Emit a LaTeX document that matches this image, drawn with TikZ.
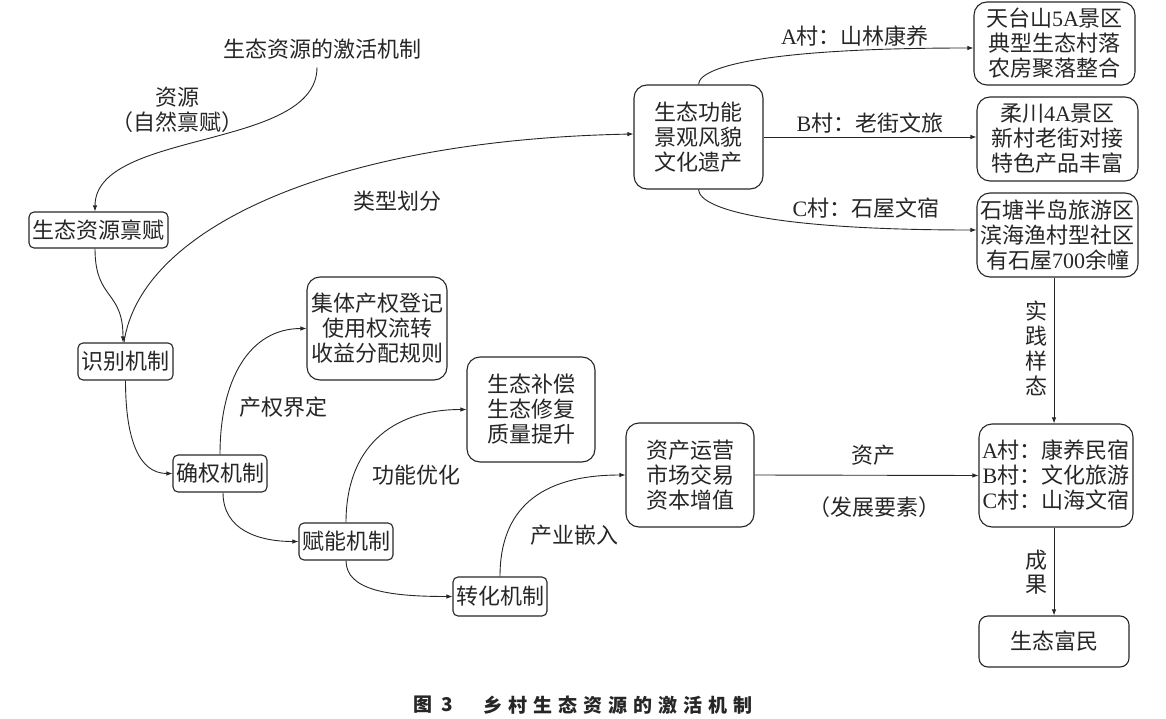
\documentclass[tikz,border=0pt]{standalone}
\usepackage{fontspec}
\setmainfont{Noto Sans CJK SC}
\newfontfamily\lat{Liberation Serif}
\usetikzlibrary{arrows.meta}
\colorlet{ink}{black!85}
\tikzset{
  box/.style={draw=ink, text=ink, line width=1.1pt, rounded corners=5pt, inner sep=0pt, align=center,
    font=\fontsize{22}{25}\selectfont},
  bigbox/.style={box, rounded corners=13pt},
  lbl/.style={inner sep=0pt, align=center, text=ink, font=\fontsize{22}{25}\selectfont},
  caplbl/.style={inner sep=0pt, text=ink, font=\fontsize{19}{22}\selectfont\bfseries},
  arr/.style={draw=ink, line width=0.9pt, -{Latex[length=6pt,width=4.5pt]}},
}
\begin{document}
\begin{tikzpicture}[x=1pt,y=-1pt]
\useasboundingbox (0,0) rectangle (1166,719);

% nodes
\node[lbl] (title) at (322.5,49) {生态资源的激活机制};
\node[box, minimum width=139pt, minimum height=36pt] (ziyuan) at (98.5,230) {生态资源禀赋};
\node[box, minimum width=95pt, minimum height=37pt] (shibie) at (125.5,361.5) {识别机制};
\node[box, minimum width=94pt, minimum height=37pt] (quequan) at (220,473.5) {确权机制};
\node[box, minimum width=94pt, minimum height=37pt] (funeng) at (346,541.5) {赋能机制};
\node[box, minimum width=94pt, minimum height=39pt] (zhuanhua) at (500,596.5) {转化机制};

\node[bigbox, minimum width=140pt, minimum height=103pt] (jiti) at (377,328.5) {集体产权登记\\使用权流转\\收益分配规则};
\node[bigbox, minimum width=128pt, minimum height=105pt] (buchang) at (531,409.5) {生态补偿\\生态修复\\质量提升};
\node[bigbox, minimum width=128pt, minimum height=104pt] (zichan) at (690,475) {资产运营\\市场交易\\资本增值};
\node[bigbox, minimum width=154pt, minimum height=103pt] (abox) at (1056,475.5) {{\lat A}村：康养民宿\\{\lat B}村：文化旅游\\{\lat C}村：山海文宿};
\node[bigbox, rounded corners=9pt, minimum width=150pt, minimum height=51pt] (fumin) at (1054,641.5) {生态富民};

\node[bigbox, minimum width=129pt, minimum height=104pt] (gongneng) at (698.5,137) {生态功能\\景观风貌\\文化遗产};
\node[bigbox, minimum width=161pt, minimum height=83pt] (tiantai) at (1054.5,43.5) {天台山{\lat 5A}景区\\典型生态村落\\农房聚落整合};
\node[bigbox, minimum width=161pt, minimum height=84pt] (rouchuan) at (1057.5,139) {柔川{\lat 4A}景区\\新村老街对接\\特色产品丰富};
\node[bigbox, minimum width=161pt, minimum height=84pt] (shitang) at (1057.5,235) {石塘半岛旅游区\\滨海渔村型社区\\有石屋{\lat 700}余幢};

% labels
\node[lbl] (lziyuan) at (177,109.5) {资源\\（自然禀赋）};
\node[lbl] (lleixing) at (397,201) {类型划分};
\node[lbl] (lchanquan) at (283,407) {产权界定};
\node[lbl] (lgongneng) at (416,475) {功能优化};
\node[lbl] (lchanye) at (574,535) {产业嵌入};
\node[lbl] (lzichan) at (873,455) {资产};
\node[lbl] (lfazhan) at (874,507) {（发展要素）};
\node[lbl] (lshijian) at (1036,348.5) {实\\践\\样\\态};
\node[lbl, font=\fontsize{22}{24}\selectfont] (lchengguo) at (1036,572) {成\\果};
\node[lbl] (la) at (855,36) {{\lat A}村：山林康养};
\node[lbl] (lb) at (870,123) {{\lat B}村：老街文旅};
\node[lbl] (lc) at (866,208) {{\lat C}村：石屋文宿};

% caption
\node[caplbl] (captu) at (422.5,705) {图};
\node[caplbl] (capnum) at (447.5,705) {3};
\foreach \c [count=\i from 0] in {乡,村,生,态,资,源,的,激,活,机,制}
  \node[caplbl] (cap\i) at (492.5+25*\i,705) {\c};

% connectors
\draw[arr] ([xshift=-5.5pt,yshift=-8pt]title.south) .. controls +(0,83) and +(0,-82) .. ([xshift=-3.5pt]ziyuan.north);
\draw[arr] ([xshift=-3.5pt]ziyuan.south) .. controls +(0,52) and +(0,-53) .. ([xshift=-2.5pt]shibie.north);
\draw[draw=ink, line width=0.9pt, -{Latex[length=6pt,width=4.5pt]}] ([xshift=-1.5pt]shibie.north) .. controls +(16,-113) and +(-304,6) .. ([yshift=3pt]gongneng.west);
\draw[arr] (shibie.south) .. controls +(0,60) and +(-33,0) .. (quequan.west);
\draw[arr] (quequan.north) .. controls +(0,-75) and +(-57,0) .. (jiti.west);
\draw[arr] ([xshift=3pt]quequan.south) .. controls +(0,38) and +(-39,0) .. (funeng.west);
\draw[arr] (funeng.north) .. controls +(0,-73) and +(-77,0) .. (buchang.west);
\draw[arr] (funeng.south) .. controls +(0,30) and +(-63,0) .. (zhuanhua.west);
\draw[arr] (zhuanhua.north) .. controls +(0,-67) and +(-86,0) .. (zichan.west);
\draw[arr] (zichan.east) -- (abox.west);
\draw[arr] (shitang.south -| fumin.north) -- (abox.north -| fumin.north);
\draw[arr] (abox.south -| fumin.north) -- (fumin.north);
\draw[arr] (gongneng.north) .. controls +(1,-20) and +(-194,0) .. ([yshift=-4.5pt]tiantai.west);
\draw[arr] (gongneng.east) -- (gongneng.east -| rouchuan.west);
\draw[arr] (gongneng.south) .. controls +(1,21) and +(-197,0) .. ([yshift=5pt]shitang.west);
\end{tikzpicture}
\end{document}
